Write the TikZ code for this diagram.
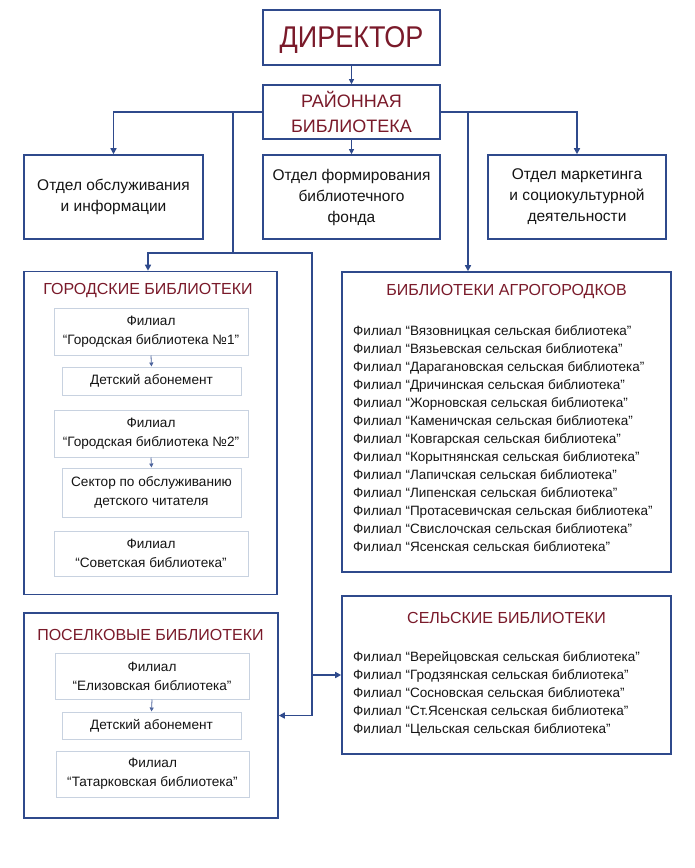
\documentclass[tikz,border=0pt]{standalone}
\usepackage{fontspec}
\setmainfont{Liberation Sans}
\newfontfamily\narrowfont[FakeStretch=0.9]{Liberation Sans}
\usetikzlibrary{arrows.meta}
\definecolor{navy}{RGB}{47,74,140}
\definecolor{dred}{RGB}{122,26,42}
\definecolor{lightb}{RGB}{200,210,224}
\definecolor{txt}{RGB}{20,20,20}
\begin{document}
\begin{tikzpicture}[x=1pt,y=-1pt,
  outerbox/.style={draw=navy,line width=1.6pt,inner sep=0pt,align=center,text=txt},
  innerbox/.style={draw=lightb,line width=1pt,inner sep=0pt,align=center,text=txt,font=\fontsize{13.6}{19}\selectfont},
  conn/.style={draw=navy,line width=1.5pt},
  arr/.style={conn,-{Triangle[length=6pt,width=6pt]}},
  thinarr/.style={draw=navy,line width=0.8pt,-{Triangle[length=5pt,width=5pt]}},
  smallarr/.style={draw=navy!85,line width=0.8pt,-{Triangle[length=4pt,width=4pt]}},
  grouptitle/.style={text=dred,inner sep=0pt,font=\fontsize{16}{18}\selectfont},
  listtext/.style={text=txt,inner sep=0pt,align=left,anchor=north west,font=\fontsize{13.5}{18}\selectfont},
  depttext/.style={font=\fontsize{15.5}{21}\selectfont}
]
\useasboundingbox[fill=white] (0,0) rectangle (695,868);

% top level
\node[outerbox,minimum width=177pt,minimum height=55pt,text=dred,text depth=0pt,font=\narrowfont\fontsize{30}{32}\selectfont] (dir) at (351.5,37.5) {ДИРЕКТОР};
\node[outerbox,minimum width=177pt,minimum height=54pt,text=dred,font=\fontsize{18}{25}\selectfont] (raion) at (351.5,112) {РАЙОННАЯ\\БИБЛИОТЕКА};

% departments
\node[outerbox,depttext,minimum width=179pt,minimum height=84pt] (d1) at (113.5,197) {Отдел обслуживания\\и информации};
\node[outerbox,depttext,minimum width=177pt,minimum height=84pt] (d2) at (351.5,197) {Отдел формирования\\библиотечного\\фонда};
\node[outerbox,depttext,minimum width=178pt,minimum height=84pt] (d3) at (577,197) {Отдел маркетинга\\и социокультурной\\деятельности};

% group boxes
\node[outerbox,minimum width=253pt,minimum height=323pt] (gor) at (150.5,433) {};
\node[outerbox,minimum width=329pt,minimum height=300pt] (agro) at (506.5,422) {};
\node[outerbox,minimum width=329pt,minimum height=158pt] (sel) at (506.5,675) {};
\node[outerbox,minimum width=254pt,minimum height=205pt] (pos) at (151,715.5) {};

% titles
\node[grouptitle] (gort) at (148,291) {ГОРОДСКИЕ БИБЛИОТЕКИ};
\node[grouptitle] (post) at (150.5,635) {ПОСЕЛКОВЫЕ БИБЛИОТЕКИ};
\node[grouptitle] (agrot) at (506.5,292) {БИБЛИОТЕКИ АГРОГОРОДКОВ};
\node[grouptitle] (selt) at (506.5,618) {СЕЛЬСКИЕ БИБЛИОТЕКИ};

% city inner boxes
\node[innerbox,minimum width=194pt,minimum height=47pt] (g1) at (151,331.5) {Филиал\\“Городская библиотека №1"};
\node[innerbox,minimum width=179pt,minimum height=28pt] (g1a) at (151.5,381) {Детский абонемент};
\node[innerbox,minimum width=194pt,minimum height=47pt] (g2) at (151,433.5) {Филиал\\“Городская библиотека №2"};
\node[innerbox,minimum width=179pt,minimum height=49pt] (g2a) at (151.5,492.5) {Сектор по обслуживанию\\детского читателя};
\node[innerbox,minimum width=194pt,minimum height=45pt] (g3) at (151,553.5) {Филиал\\“Советская библиотека”};

% settlement inner boxes
\node[innerbox,minimum width=194pt,minimum height=46pt] (p1) at (152,676) {Филиал\\“Елизовская библиотека”};
\node[innerbox,minimum width=179pt,minimum height=27pt] (p1a) at (151.5,725.5) {Детский абонемент};
\node[innerbox,minimum width=193pt,minimum height=46pt] (p2) at (152.5,774) {Филиал\\“Татарковская библиотека”};

% lists
\node[listtext] (agrol) at (353,325.5) {Филиал “Вязовницкая сельская библиотека”\\
Филиал “Вязьевская сельская библиотека”\\
Филиал “Дарагановская сельская библиотека”\\
Филиал “Дричинская сельская библиотека”\\
Филиал “Жорновская сельская библиотека”\\
Филиал “Каменичская сельская библиотека”\\
Филиал “Ковгарская сельская библиотека”\\
Филиал “Корытнянская сельская библиотека”\\
Филиал “Лапичская сельская библиотека”\\
Филиал “Липенская сельская библиотека”\\
Филиал “Протасевичская сельская библиотека”\\
Филиал “Свислочская сельская библиотека”\\
Филиал “Ясенская сельская библиотека”};
\node[listtext,font=\fontsize{13.5}{17.9}\selectfont] (sell) at (353,651.5) {Филиал “Верейцовская сельская библиотека"\\
Филиал “Гродзянская сельская библиотека"\\
Филиал “Сосновская сельская библиотека”\\
Филиал “Ст.Ясенская сельская библиотека”\\
Филиал “Цельская сельская библиотека”};

% connectors
\coordinate (jl) at (233,112);
\coordinate (jlb) at (233,253);
\coordinate (jr) at (468,112);
\coordinate (jv) at (312,253);
\coordinate (jvs) at (312,675);
\coordinate (jvb) at (312,715.5);

\draw[thinarr] (dir.south) -- (raion.north);
\draw[thinarr] (raion.south) -- (d2.north);
\draw[arr] (raion.west) -| (d1.north);
\draw[arr] (raion.east) -| (d3.north);
\draw[conn] (jl) -- (jlb);
\draw[arr] (jlb) -| ([xshift=-2.5pt]gor.north);
\draw[conn] (jlb) -- (jv) -- (jvb);
\draw[arr] (jvb) -- (pos.east);
\draw[arr] (jvs) -- (sel.west);
\draw[arr] (jr) -- (jr |- agro.north);

\draw[smallarr] (g1.south) -- (g1a.north);
\draw[smallarr] (g2.south) -- (g2a.north);
\draw[smallarr] (p1.south) -- (p1a.north);
\end{tikzpicture}
\end{document}
